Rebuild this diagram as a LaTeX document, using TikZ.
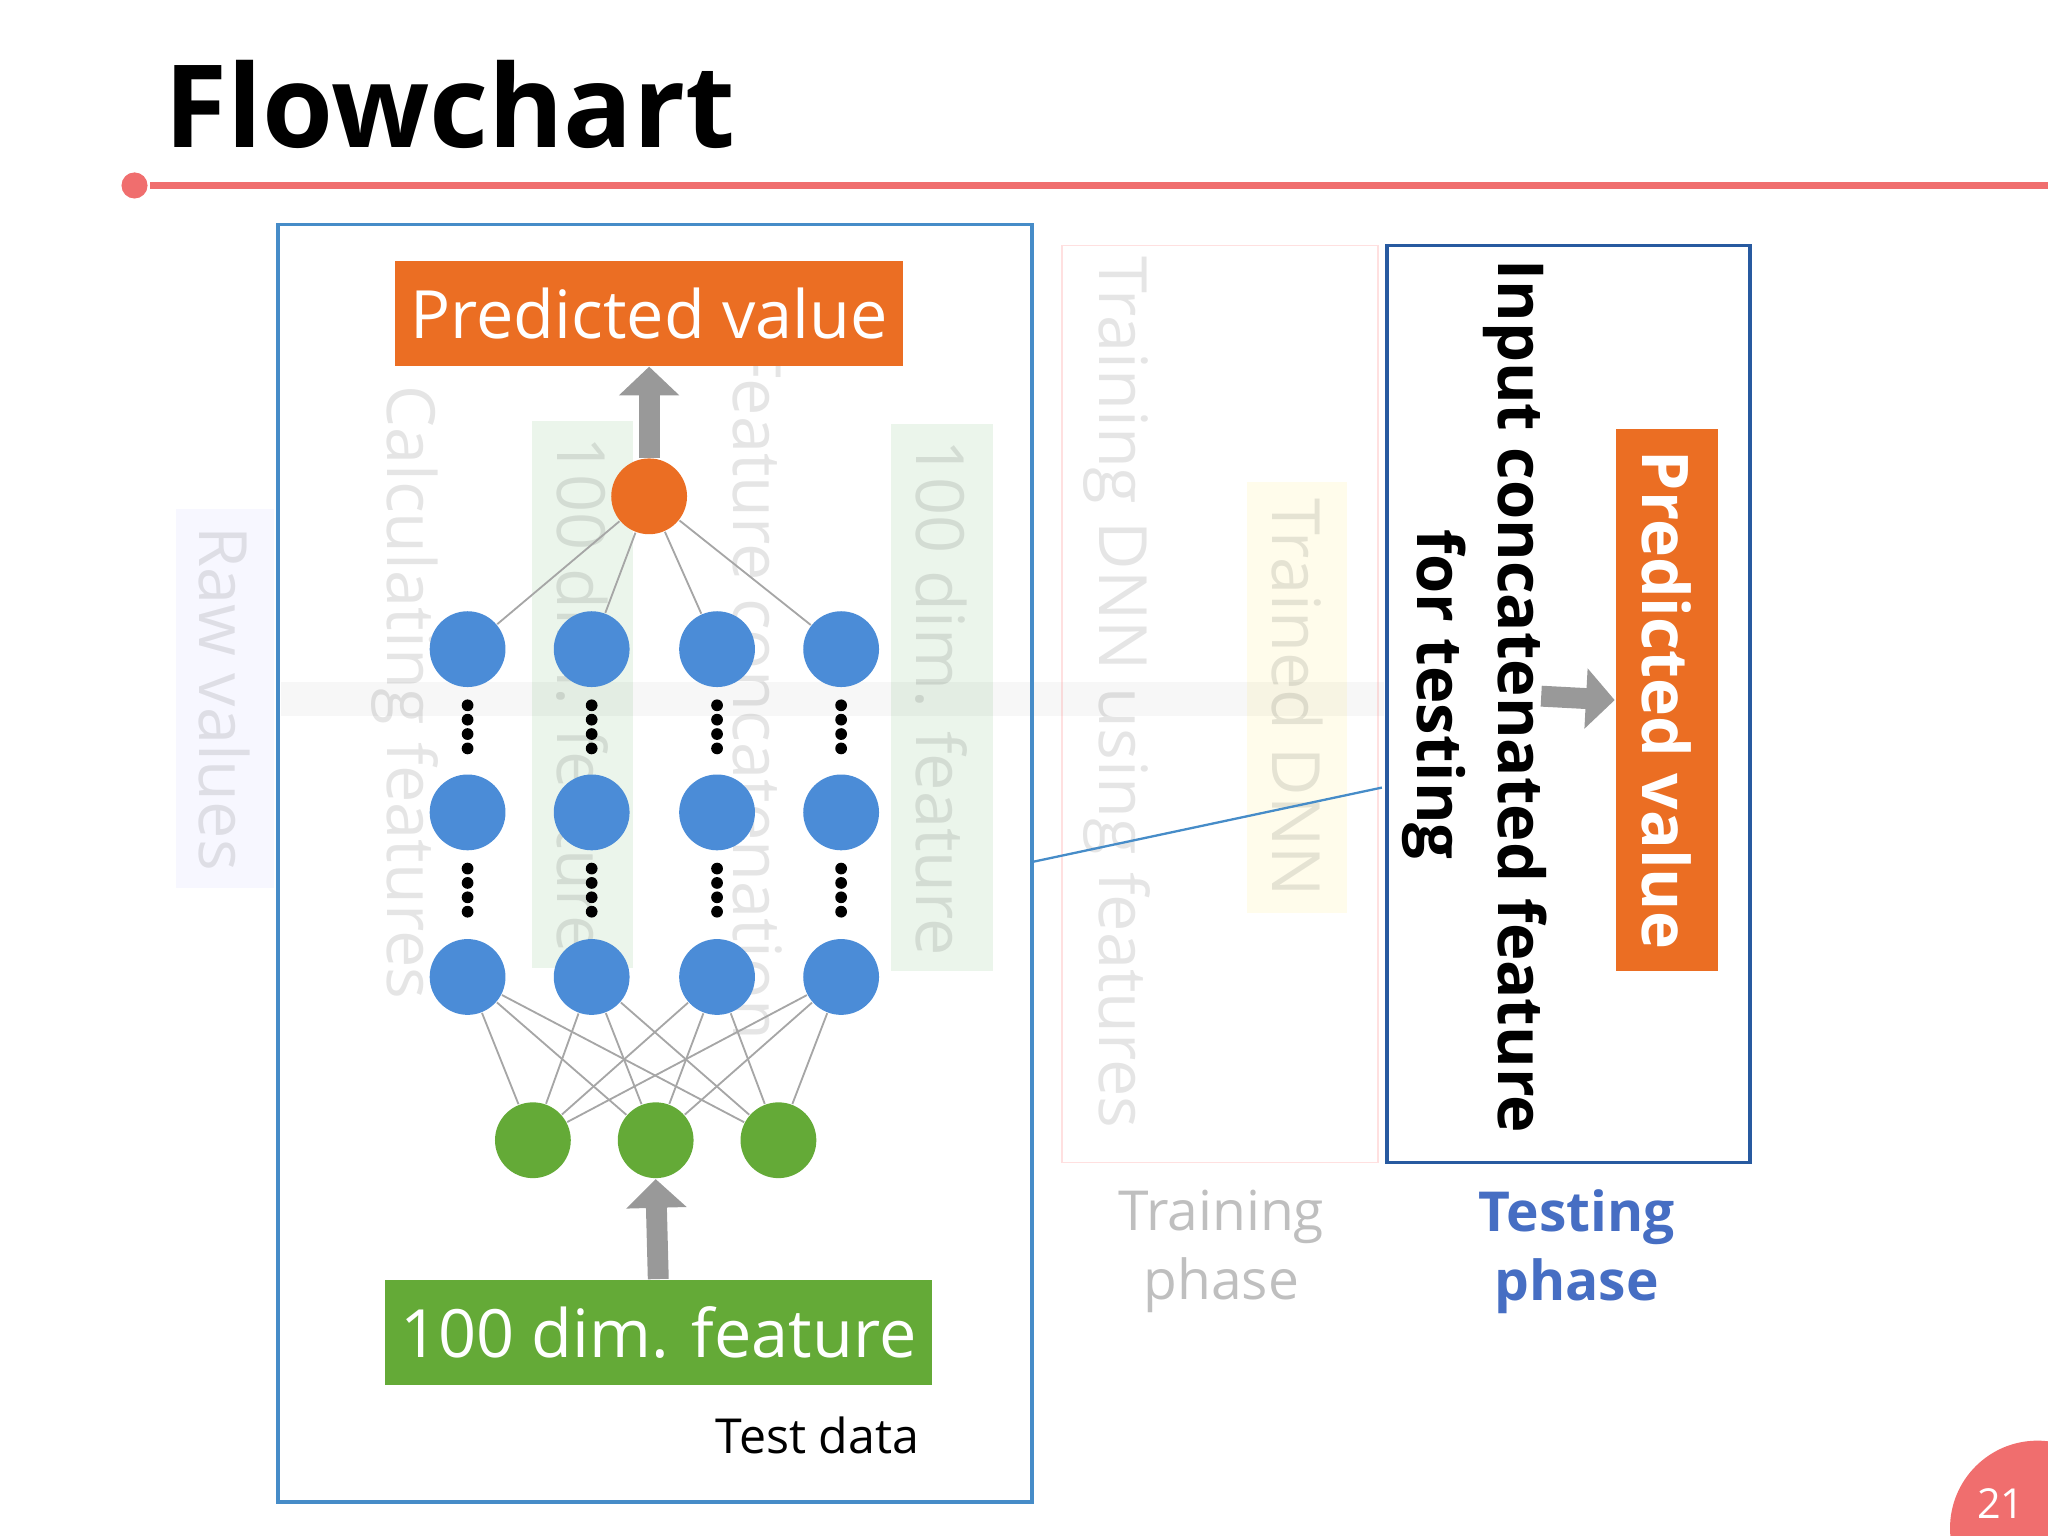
\documentclass[tikz,border=0pt]{standalone}
\usepackage{fontspec}
\setmainfont{Open Sans}
\usetikzlibrary{positioning,arrows.meta}
\definecolor{salmon}{RGB}{240,110,110}
\definecolor{boxblue}{RGB}{70,140,200}
\definecolor{darkblue}{RGB}{40,90,160}
\definecolor{nodeorange}{RGB}{235,110,35}
\definecolor{nodeblue}{RGB}{75,140,215}
\definecolor{nodegreen}{RGB}{100,170,55}
\definecolor{phaseblue}{RGB}{70,110,195}
\tikzset{
  neuron/.style={circle,minimum size=0.58cm,inner sep=0pt},
  bluen/.style={neuron,fill=nodeblue},
  greenn/.style={neuron,fill=nodegreen},
  link/.style={draw=gray!70,line width=0.4pt},
  fatarrow/.style={-{Triangle[length=0.22cm,width=0.45cm]},line width=0.16cm,draw=gray!80},
  ghost/.style={text opacity=0.1,fill opacity=0.08,font=\fontsize{14.5}{16}\selectfont,text=black},
  vdots/.style={dotted,line width=0.09cm,line cap=round,dash pattern=on 0pt off 0.11cm}
}
\begin{document}
\begin{tikzpicture}[x=0.01cm,y=-0.01cm]
  \useasboundingbox (0,0) rectangle (1568,1176);
  % title
  \node[anchor=base west,font=\fontsize{25}{26}\selectfont\bfseries,inner sep=0pt] (title) at (125,113) {Flowchart};
  \fill[salmon] (103,142) circle (10);
  \draw[salmon,line width=1.6pt] (115,142) -- (1568,142);
  % faded background
  \fill[gray!6] (215,522) rectangle (1060,548);
  \node[ghost,fill=blue!40,rotate=-90,minimum width=2.9cm,minimum height=0.75cm] (raw) at (172,535) {Raw values};
  \node[ghost,rotate=-90] (calc) at (310,530) {Calculating features};
  \node[ghost,fill=green!50!black,rotate=-90,minimum width=3.85cm,minimum height=0.77cm] (feat1) at (446,532) {100 dim. feature};
  \node[ghost,rotate=-90] (concat) at (580,530) {Feature concatenation};
  \node[ghost,fill=green!50!black,rotate=-90,minimum width=4.1cm,minimum height=0.78cm] (feat2) at (721,534) {100 dim. feature};
  \draw[red!40,opacity=0.3] (813,188) rectangle (1055,890);
  \node[ghost,rotate=-90] (train) at (855,530) {Training DNN using features};
  \node[ghost,fill=yellow!80!orange,rotate=-90,minimum width=3.3cm,minimum height=0.77cm] (trained) at (993,534) {Trained DNN};
  \node[ghost,text opacity=0.25,align=center,font=\fontsize{12}{15}\selectfont] (trphase) at (935,958) {Training\\phase};
  % test box
  \draw[boxblue,line width=0.8pt] (213,172) rectangle (790,1150);
  \node[fill=nodeorange,text=white,minimum width=3.87cm,minimum height=0.8cm,font=\fontsize{14.5}{16}\selectfont] (pred) at (497,240) {Predicted value};
  \node[neuron,fill=nodeorange] (out) at (497,380) {};
  \foreach \c [count=\i] in {358,453,549,644} {
    \node[bluen] (a\i) at (\c,497) {};
    \node[bluen] (b\i) at (\c,622) {};
    \node[bluen] (c\i) at (\c,748) {};
    \draw[vdots] (\c,540) -- (\c,582);
    \draw[vdots] (\c,665) -- (\c,707);
    \draw[link] (out) -- (a\i);
  }
  \foreach \c [count=\j] in {408,502,596} {
    \node[greenn] (g\j) at (\c,873) {};
    \foreach \i in {1,...,4} \draw[link] (c\i) -- (g\j);
  }
  \node[fill=nodegreen,text=white,minimum width=4.12cm,minimum height=0.8cm,font=\fontsize{14.5}{16}\selectfont] (feat) at (504,1020) {100 dim. feature};
  \node[anchor=north east,font=\fontsize{10.5}{12}\selectfont] (testdata) at (716,1072) {Test data};
  \draw[fatarrow] (out.north) -- (pred.south);
  \draw[fatarrow] (feat.north) -- (g2.south);
  % testing phase
  \coordinate (zoomA) at (790,660);
  \coordinate (zoomB) at (1058,603);
  \draw[boxblue,line width=0.5pt] (zoomA) -- (zoomB);
  \draw[darkblue,line width=0.8pt] (1062,188) rectangle (1340,890);
  \node[rotate=-90,anchor=west,font=\fontsize{13.8}{16}\selectfont\bfseries,inner sep=0pt] (input) at (1160,198) {Input concatenated feature};
  \node[rotate=-90,anchor=west,font=\fontsize{13.8}{16}\selectfont\bfseries,inner sep=0pt] (fortest) at (1098,405) {for testing};
  \node[fill=nodeorange,text=white,rotate=-90,minimum width=4.15cm,minimum height=0.78cm,font=\fontsize{14}{16}\selectfont\bfseries] (pred2) at (1276,536) {Predicted value};
  \coordinate (arrS) at (1180,533);
  \draw[fatarrow] (arrS) -- (pred2.south);
  \node[align=center,text=phaseblue,font=\fontsize{12}{15}\selectfont\bfseries] (tsphase) at (1207,958) {Testing\\phase};
  % page number
  \fill[salmon] (1568,1176) ++(-8,-6) circle (67);
  \node[text=white,font=\fontsize{9}{10}\selectfont] (page) at (1532,1151) {21};
\end{tikzpicture}
\end{document}
